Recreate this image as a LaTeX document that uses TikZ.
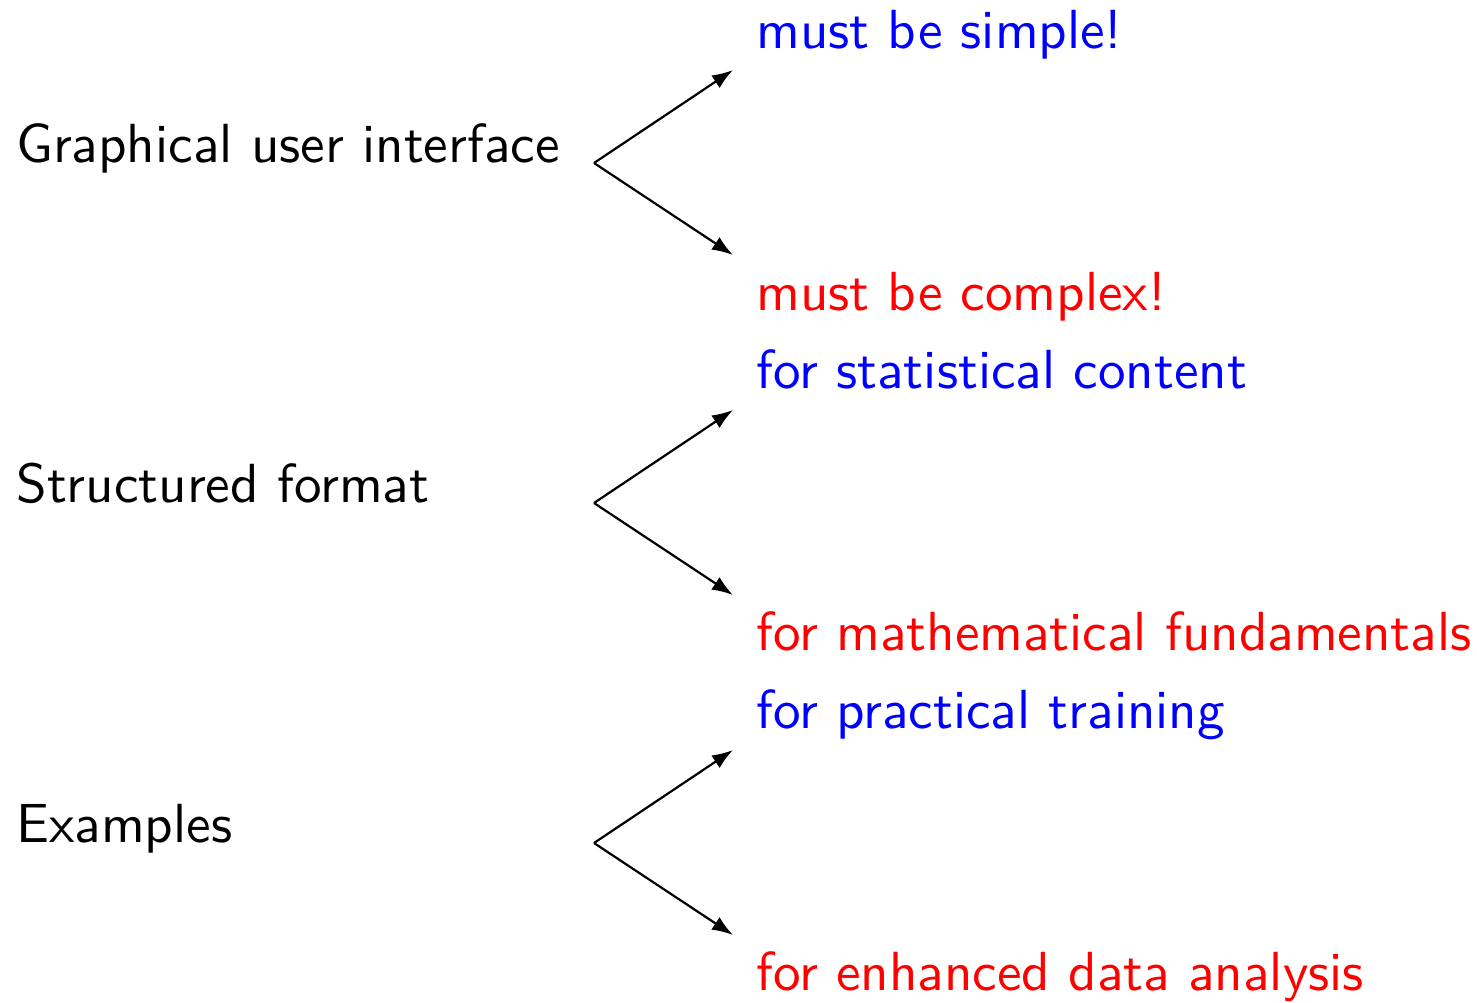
\documentclass[tikz,border=0pt]{standalone}
\usepackage{fontspec}
\newfontfamily\lmsten{lmsans10-regular.otf}
\usetikzlibrary{arrows.meta}
\begin{document}
\begin{tikzpicture}[x=0.5pt,y=-0.5pt,
  lbl/.style={anchor=base west,inner sep=0pt,font=\lmsten\fontsize{27.55}{33}\selectfont},
  good/.style={lbl,text=blue},
  bad/.style={lbl,text=red},
  arr/.style={line width=1.1pt,-{Latex[length=10.5pt,width=7.5pt]}}]
\useasboundingbox (0,0) rectangle (1477,1002);
\foreach \i/\t/\g/\b [count=\k from 0] in {1/Graphical user interface/must be simple!/must be complex!,
   2/Structured format/for statistical content/for mathematical fundamentals,
   3/Examples/for practical training/for enhanced data analysis}{
  \pgfmathsetmacro{\dy}{340*\k}
  \node[lbl] (l\i) at (16,162+\dy) {\t};
  \coordinate (s\i) at (594,163+\dy);
  \coordinate (u\i) at (733,70+\dy);
  \coordinate (d\i) at (733,255+\dy);
  \node[good] (g\i) at (756,48.5+\dy) {\g};
  \node[bad] (b\i) at (756,310+\dy) {\b};
  \draw[arr] (s\i) -- (u\i);
  \draw[arr] (s\i) -- (d\i);
}
\end{tikzpicture}
\end{document}
